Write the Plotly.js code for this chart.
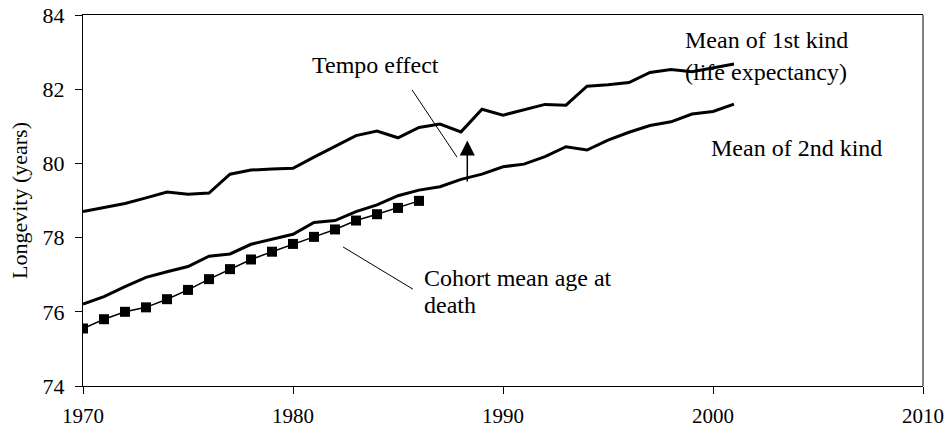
<!DOCTYPE html>
<html>
<head>
<meta charset="utf-8">
<script src="https://cdn.plot.ly/plotly-3.0.1.min.js"></script>
<style>
  html, body { margin: 0; padding: 0; background: #fff; }
  #chart { width: 950px; height: 431px; }
</style>
</head>
<body>
<div id="chart"></div>
<script>
// years and series
const years = [1970, 1971, 1972, 1973, 1974, 1975, 1976, 1977, 1978, 1979,
               1980, 1981, 1982, 1983, 1984, 1985, 1986, 1987, 1988, 1989,
               1990, 1991, 1992, 1993, 1994, 1995, 1996, 1997, 1998, 1999,
               2000, 2001];

// mean of 1st kind (life expectancy)
const meanFirst = [78.70, 78.80, 78.92, 79.07, 79.23, 79.17, 79.20, 79.71, 79.82, 79.85,
                   79.87, 80.17, 80.47, 80.75, 80.87, 80.69, 80.97, 81.06, 80.85, 81.46,
                   81.30, 81.45, 81.59, 81.57, 82.08, 82.12, 82.18, 82.45, 82.53, 82.47,
                   82.57, 82.68];

// mean of 2nd kind
const meanSecond = [76.21, 76.41, 76.68, 76.93, 77.08, 77.22, 77.50, 77.56, 77.82, 77.95,
                    78.09, 78.41, 78.46, 78.70, 78.88, 79.13, 79.28, 79.37, 79.57, 79.71,
                    79.91, 79.98, 80.18, 80.45, 80.36, 80.63, 80.84, 81.02, 81.12, 81.33,
                    81.40, 81.60];

// cohort mean age at death
const cohortYears = [1970, 1971, 1972, 1973, 1974, 1975, 1976, 1977, 1978,
                     1979, 1980, 1981, 1982, 1983, 1984, 1985, 1986];
const cohortMean = [75.55, 75.80, 76.00, 76.12, 76.34, 76.59, 76.88, 77.15, 77.41,
                    77.62, 77.83, 78.02, 78.22, 78.46, 78.63, 78.80, 78.99];

const xTicks = [1970, 1980, 1990, 2000, 2010];
const yTicks = [74, 76, 78, 80, 82, 84];

const serif = '"Liberation Serif", "Times New Roman", serif';

const traces = [
    {
        x: years, y: meanFirst, type: 'scatter', mode: 'lines',
        line: { color: '#000', width: 3 },
        name: 'Mean of 1st kind'
    },
    {
        x: years, y: meanSecond, type: 'scatter', mode: 'lines',
        line: { color: '#000', width: 3 },
        name: 'Mean of 2nd kind'
    },
    {
        x: cohortYears, y: cohortMean, type: 'scatter', mode: 'lines+markers',
        line: { color: '#000', width: 1.5 },
        marker: { symbol: 'square', size: 10, color: '#000' },
        name: 'Cohort mean age at death'
    }
];

// text labels (left aligned)
function label(text, x, y) {
    return {
        text: text, x: x, y: y, xref: 'x', yref: 'y',
        xanchor: 'left', yanchor: 'middle', showarrow: false,
        font: { family: serif, size: 24, color: '#000' }
    };
}

const annotations = [
    label('Tempo effect', 1980.8, 82.65),
    label('Mean of 1st kind', 1998.55, 83.33),
    label('(life expectancy)', 1998.55, 82.46),
    label('Mean of 2nd kind', 1999.8, 80.42),
    label('Cohort mean age at', 1986.15, 76.92),
    label('death', 1986.15, 76.17),
    // tempo effect arrow
    {
        x: 1988.3, y: 80.62, ax: 1988.3, ay: 79.47,
        xref: 'x', yref: 'y', axref: 'x', ayref: 'y',
        text: '', showarrow: true, arrowhead: 2,
        arrowsize: 2, arrowwidth: 1.5, arrowcolor: '#000'
    }
];

const shapes = [
    // leader lines
    { type: 'line', xref: 'x', yref: 'y', x0: 1985.67, y0: 81.98, x1: 1987.81, y1: 80.17,
      line: { color: '#000', width: 1 } },
    { type: 'line', xref: 'x', yref: 'y', x0: 1982.38, y0: 77.75, x1: 1985.71, y1: 76.61,
      line: { color: '#000', width: 1 } },
    // grey right border of the plot area
    { type: 'line', xref: 'paper', yref: 'paper', x0: 1, y0: 0, x1: 1, y1: 1,
      line: { color: '#808080', width: 2 } }
];

const layout = {
    width: 950,
    height: 431,
    margin: { l: 83, r: 27, t: 15, b: 45 },
    paper_bgcolor: '#fff',
    plot_bgcolor: '#fff',
    showlegend: false,
    font: { family: serif, size: 22, color: '#000' },
    xaxis: {
        range: [1970, 2010],
        tickvals: xTicks,
        ticktext: xTicks.map(String),
        ticks: 'outside', ticklen: 7, tickcolor: '#000',
        showline: true, linecolor: '#000', linewidth: 1, mirror: true,
        showgrid: false, zeroline: false,
        ticklabelstandoff: 4,
        tickfont: { family: serif, size: 21 }
    },
    yaxis: {
        range: [74, 84],
        tickvals: yTicks,
        ticktext: yTicks.map(String),
        ticks: 'outside', ticklen: 7, tickcolor: '#000',
        showline: true, linecolor: '#000', linewidth: 1,
        showgrid: false, zeroline: false,
        ticklabelstandoff: 6,
        tickfont: { family: serif, size: 22 },
        title: { text: 'Longevity (years)', standoff: 8, font: { family: serif, size: 22 } }
    },
    annotations: annotations,
    shapes: shapes
};

Plotly.newPlot('chart', traces, layout, { displayModeBar: false, staticPlot: true });
</script>
</body>
</html>
